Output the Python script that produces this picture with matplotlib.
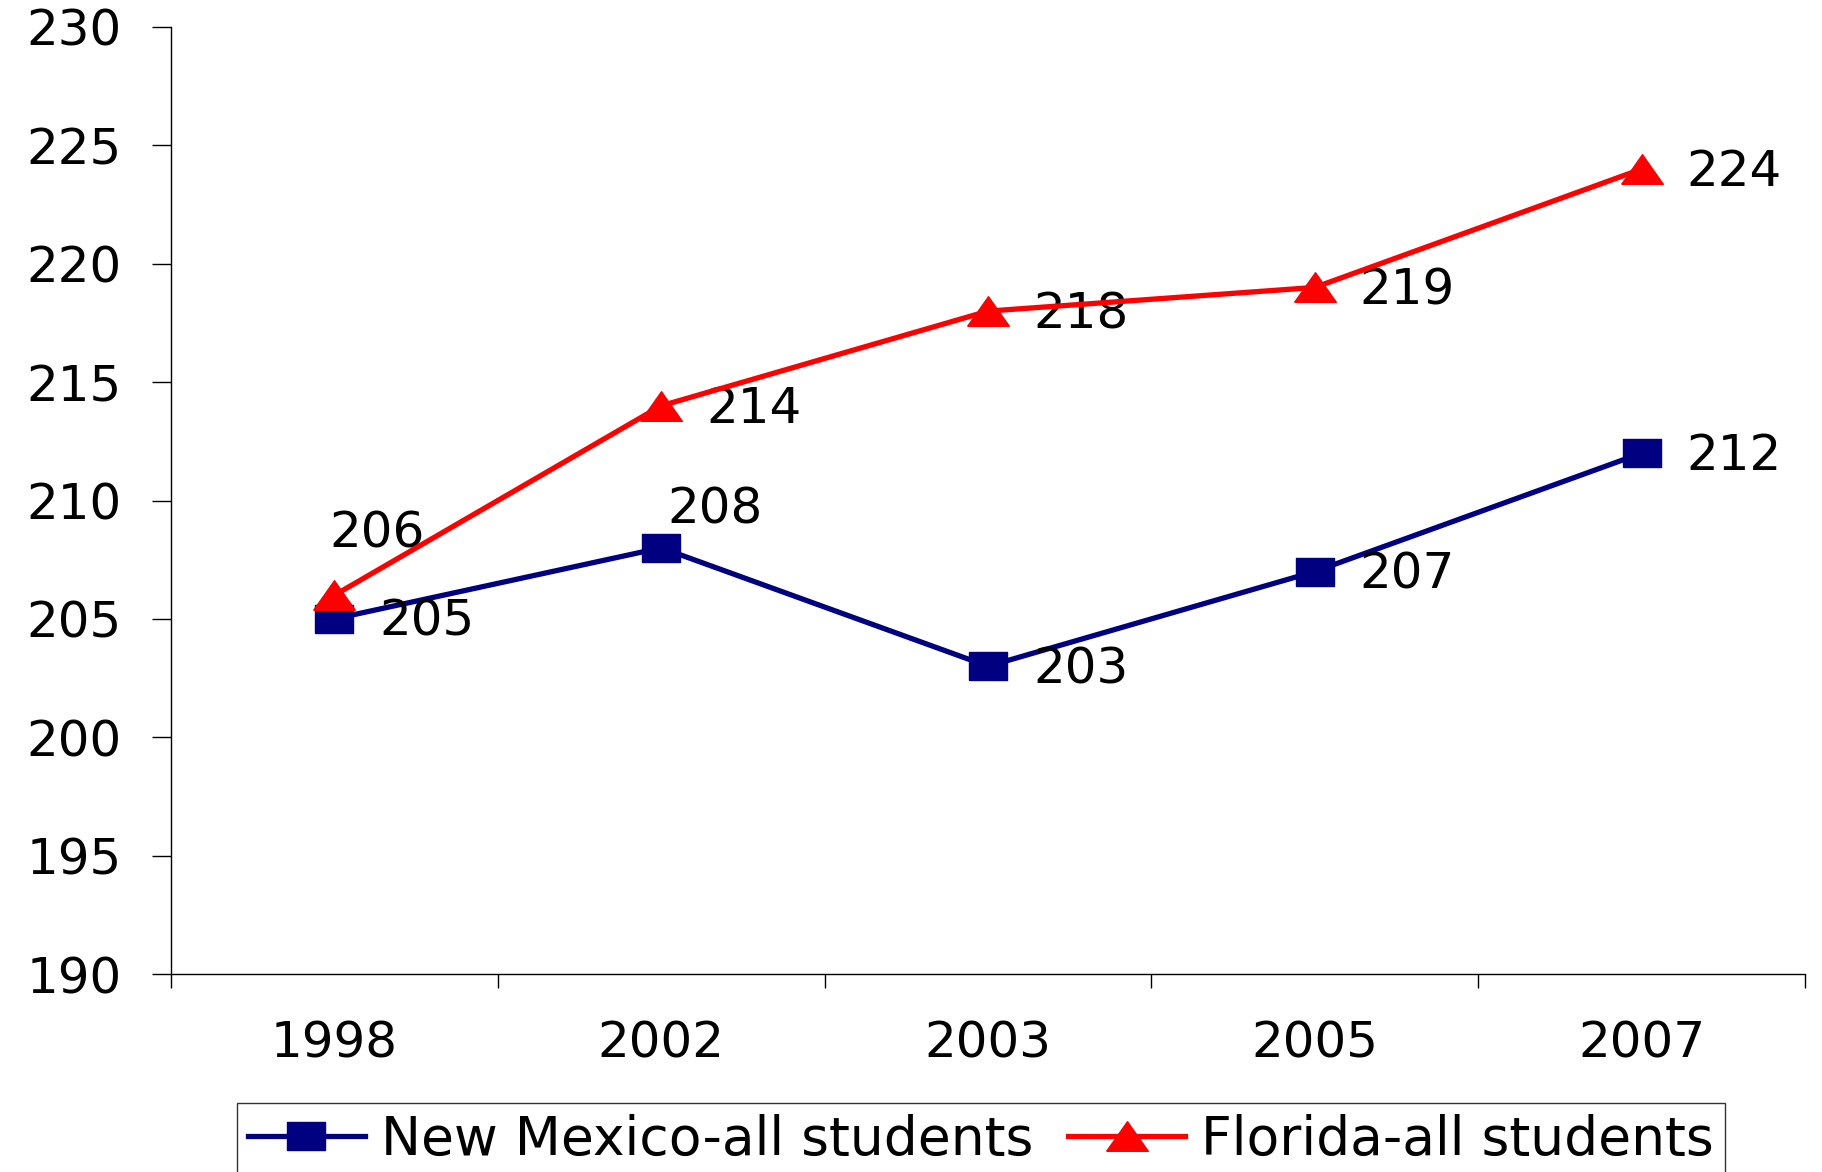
import matplotlib
matplotlib.use("Agg")
import matplotlib.pyplot as plt
import numpy as np

YEARS = ["1998", "2002", "2003", "2005", "2007"]
NEW_MEXICO = [205, 208, 203, 207, 212]
FLORIDA = [206, 214, 218, 219, 224]
Y_TICKS = [190, 195, 200, 205, 210, 215, 220, 225, 230]

NAVY = "#000080"
RED = "#FF0000"
FS = 36
LEG_FS = 38.5

# data-label offsets in pixels (dx, dy), one per point
NM_OFFSETS = [(45, -3), (6, 38), (45, -3), (45, -3), (45, -3)]
FL_OFFSETS = [(-5, 62), (45, -3), (45, -3), (45, -3), (45, -3)]

# the original chart is stretched sideways, so the markers are wide
TRIANGLE = [(-1, -0.71), (1, -0.71), (0, 0.71), (-1, -0.71)]
RECT = [(-1, -0.7), (1, -0.7), (1, 0.7), (-1, 0.7), (-1, -0.7)]

plt.rcParams["font.family"] = ["DejaVu Sans"]

fig = plt.figure(figsize=(18.22, 11.72), dpi=100)
ax = fig.add_axes([171 / 1822, 1 - 974 / 1172, (1805 - 171) / 1822, (974 - 27) / 1172])

x = np.arange(len(YEARS))
ax.plot(x, NEW_MEXICO, color=NAVY, lw=3.8, marker=RECT, ms=28, mec=NAVY, mew=1,
        label="New Mexico-all students", zorder=3)
ax.plot(x, FLORIDA, color=RED, lw=3.8, marker=TRIANGLE, ms=30, mec=RED, mew=1,
        label="Florida-all students", zorder=4)

for xi, v, (dx, dy) in zip(x, NEW_MEXICO, NM_OFFSETS):
    ax.annotate(str(v), (xi, v), xytext=(dx, dy), textcoords="offset pixels",
                ha="left", va="center", fontsize=FS)
for xi, v, (dx, dy) in zip(x, FLORIDA, FL_OFFSETS):
    ax.annotate(str(v), (xi, v), xytext=(dx, dy), textcoords="offset pixels",
                ha="left", va="center", fontsize=FS)

ax.set_xlim(-0.5, len(YEARS) - 0.5)
ax.set_ylim(190, 230)
ax.set_yticks(Y_TICKS)
ax.tick_params(axis="y", direction="out", length=13.7, width=1, pad=22, labelsize=FS)

# category boundaries carry the tick marks, labels sit at the centres
ax.set_xticks(np.arange(len(YEARS) + 1) - 0.5)
ax.set_xticklabels([])
ax.set_xticks(x, minor=True)
ax.set_xticklabels(YEARS, minor=True)
ax.tick_params(axis="x", which="major", direction="out", length=10, width=1)
ax.tick_params(axis="x", which="minor", length=0, pad=33, labelsize=FS)

for side in ("top", "right"):
    ax.spines[side].set_visible(False)
for side in ("left", "bottom"):
    ax.spines[side].set_linewidth(1)
    ax.spines[side].set_color("black")

leg = fig.legend(loc="upper left", bbox_to_anchor=(237 / 1822, 1 - 1103 / 1172),
                 ncol=2, fontsize=LEG_FS, frameon=True, fancybox=False,
                 borderaxespad=0, borderpad=0.2, handlelength=2.19,
                 handletextpad=0.3, columnspacing=0.65)
leg.get_frame().set_edgecolor("black")
leg.get_frame().set_linewidth(1)

fig.savefig("out.png", dpi=100)
